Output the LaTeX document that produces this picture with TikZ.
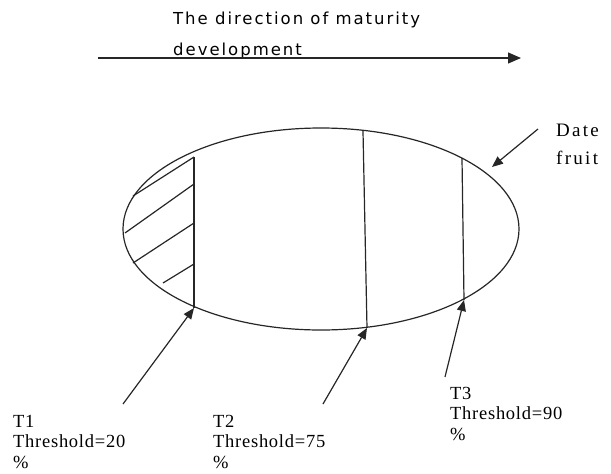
\documentclass[tikz,border=0pt]{standalone}
\usepackage{fontspec}
\setmainfont{Liberation Serif}
\newfontfamily\titlefont[LetterSpace=12]{DejaVu Sans}
\newfontfamily\labfont[LetterSpace=4]{Liberation Serif}
\newfontfamily\labwfont[LetterSpace=12]{Liberation Serif}
\usetikzlibrary{arrows.meta,shapes.geometric}
\begin{document}
\begin{tikzpicture}[x=1pt,y=-1pt,
  ln/.style={line width=1.2pt,draw=black!85},
  arr/.style={ln,-{Triangle[length=11pt,width=9pt]}},
  lab/.style={inner sep=0pt,anchor=north west,align=left,font=\labfont\fontsize{18.5}{20.5}\selectfont},
  ttl/.style={inner sep=0pt,anchor=north west,align=left,font=\titlefont\fontsize{16.5}{31}\selectfont}]
\useasboundingbox (0,0) rectangle (611,474);
% title and direction arrow
\node[ttl] (title) at (173,12) {The direction of maturity\\development};
\coordinate (dirA) at (98,58);
\coordinate (dirB) at (521,58);
\draw[ln,-{Triangle[length=13pt,width=11pt]}] (dirA) -- (dirB);
% fruit
\node[ln,ellipse,draw,minimum width=396pt,minimum height=202pt,inner sep=0pt] (fruit) at (321,229) {};
% threshold lines
\coordinate (t1top) at (194,157);
\coordinate (t1bot) at (194,308);
\coordinate (t2top) at (363,131);
\coordinate (t2bot) at (367,328);
\coordinate (t3top) at (462,158);
\coordinate (t3bot) at (464,300);
\draw[ln] (t1top) -- (t1bot);
\draw[ln] (t2top) -- (t2bot);
\draw[ln] (t3top) -- (t3bot);
% hatching
\coordinate (h1a) at (133,196); \coordinate (h1b) at (194,157);
\coordinate (h2a) at (125,233); \coordinate (h2b) at (194,184);
\coordinate (h3a) at (133,263); \coordinate (h3b) at (194,223);
\coordinate (h4a) at (163,283); \coordinate (h4b) at (194,264);
\draw[ln] (h1a) -- (h1b);
\draw[ln] (h2a) -- (h2b);
\draw[ln] (h3a) -- (h3b);
\draw[ln] (h4a) -- (h4b);
% labels
\node[lab] (T1) at (13,415) {T1\\Threshold=20\\\%};
\node[lab] (T2) at (213,415) {T2\\Threshold=75\\\%};
\node[lab] (T3) at (450,387) {T3\\Threshold=90\\\%};
\node[lab,font=\labwfont\fontsize{19}{28}\selectfont] (date) at (556,124) {Date\\fruit};
% label arrows
\coordinate (a1) at (123,404);
\coordinate (a2) at (323,404);
\coordinate (a3) at (445,377);
\coordinate (a4) at (538,129);
\coordinate (d4) at (492,167);
\draw[arr] (a1) -- (t1bot);
\draw[arr] (a2) -- (t2bot);
\draw[arr] (a3) -- (t3bot);
\draw[arr] (a4) -- (d4);
\end{tikzpicture}
\end{document}
